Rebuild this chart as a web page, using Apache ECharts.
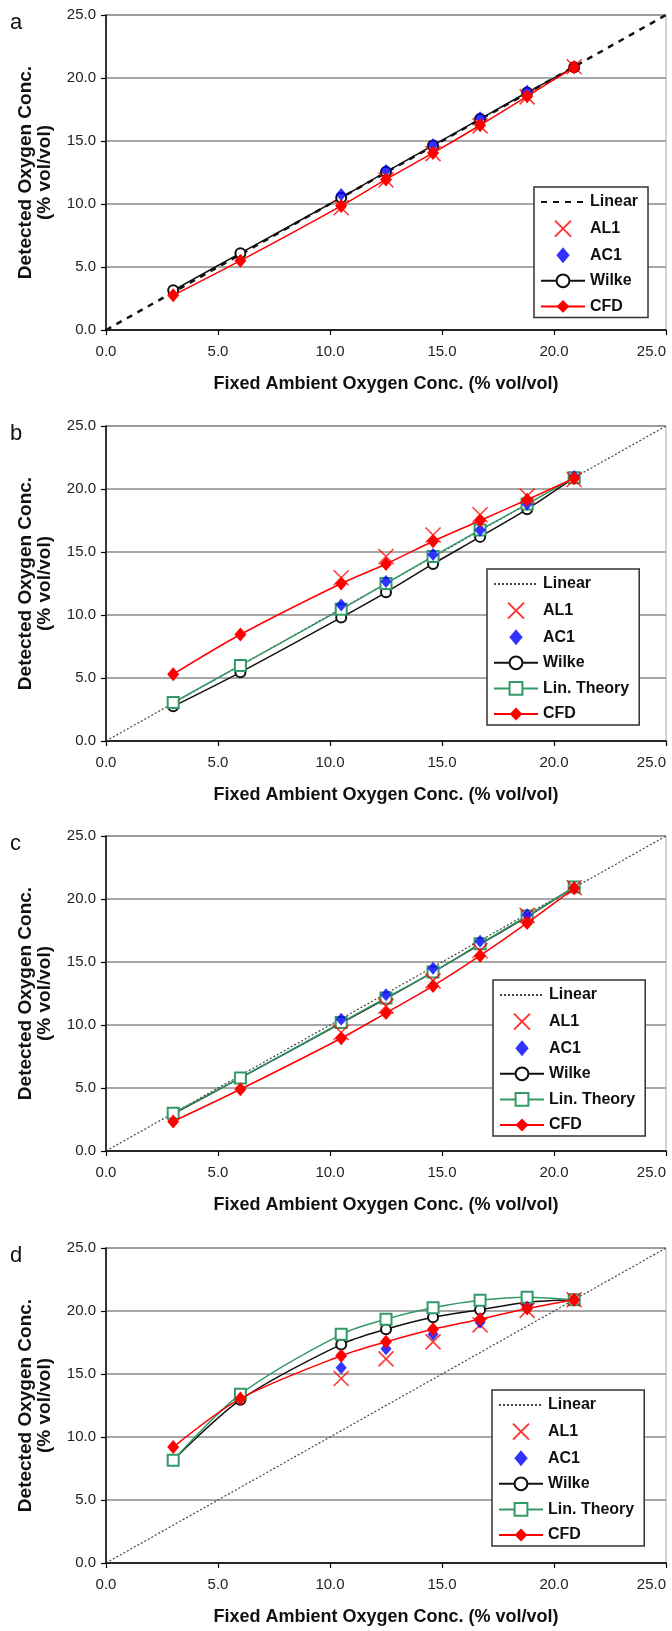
<!DOCTYPE html>
<html>
<head>
<meta charset="utf-8">
<script src="https://cdn.jsdelivr.net/npm/echarts@6/dist/echarts.min.js"></script>
<style>
  html, body { margin: 0; padding: 0; background: #fff; }
  #page { position: relative; width: 672px; height: 1631px; }
  .panel { position: absolute; left: 0; width: 672px; height: 398px; }
</style>
</head>
<body>
<div id="page">
  <div class="panel" id="panel-a" style="top:0px"></div>
  <div class="panel" id="panel-b" style="top:411px"></div>
  <div class="panel" id="panel-c" style="top:821px"></div>
  <div class="panel" id="panel-d" style="top:1233px"></div>
</div>
<script>
// x positions (fixed ambient O2, % vol/vol)
var xFull = [3.0, 6.0, 10.5, 12.5, 14.6, 16.7, 18.8, 20.9];
var xSensor = [10.5, 12.5, 14.6, 16.7, 18.8, 20.9];
var linearX = [0, 25];
var linearY = [0, 25];

// panel a
var aAL1 = [9.7, 11.9, 14.0, 16.2, 18.5, 20.9];
var aAC1 = [10.75, 12.65, 14.7, 16.85, 18.95, 20.9];
var aWilke = [3.15, 6.1, 10.5, 12.55, 14.65, 16.75, 18.85, 20.85];
var aCFD = [2.75, 5.5, 9.85, 11.95, 14.05, 16.25, 18.55, 20.85];

// panel b
var bAL1 = [12.95, 14.65, 16.35, 17.95, 19.45, 20.75];
var bAC1 = [10.8, 12.65, 14.8, 16.75, 18.8, 21.0];
var bWilke = [2.75, 5.45, 9.8, 11.8, 14.05, 16.2, 18.4, 20.9];
var bLin = [3.05, 6.0, 10.45, 12.5, 14.65, 16.75, 18.8, 20.9];
var bCFD = [5.3, 8.45, 12.5, 14.05, 15.85, 17.5, 19.15, 20.85];

// panel c
var cAL1 = [9.4, 11.5, 13.5, 15.9, 18.7, 20.9];
var cAC1 = [10.45, 12.4, 14.5, 16.65, 18.75, 20.9];
var cWilke = [2.95, 5.8, 10.15, 12.1, 14.2, 16.4, 18.6, 20.95];
var cLin = [3.0, 5.8, 10.2, 12.15, 14.2, 16.45, 18.65, 20.95];
var cCFD = [2.35, 4.9, 8.95, 10.95, 13.1, 15.5, 18.1, 20.85];

// panel d
var dAL1 = [14.65, 16.2, 17.55, 18.9, 20.05, 20.9];
var dAC1 = [15.5, 17.0, 18.15, 19.1, 20.3, 20.9];
var dWilke = [8.15, 12.95, 17.35, 18.55, 19.5, 20.1, 20.7, 20.9];
var dLin = [8.15, 13.4, 18.15, 19.35, 20.25, 20.85, 21.1, 20.9];
var dCFD = [9.2, 13.05, 16.45, 17.55, 18.55, 19.35, 20.2, 20.9];

var FONT = '"Liberation Sans", Arial, sans-serif';
var CROSS = 'path://M0,0L10,10M10,0L0,10';
var DIAMOND = 'path://M5,0L10,6L5,12L0,6Z';

function zip(xs, ys) {
    return xs.map(function (x, i) { return [x, ys[i]]; });
}

function fmt(v) { return v.toFixed(1); }

function buildOption(p) {
    var series = [];
    series.push({
        name: 'Linear', type: 'line', symbol: 'circle', symbolSize: 0, showSymbol: false, silent: true,
        data: zip(linearX, linearY),
        itemStyle: { color: '#111', opacity: 0 },
        lineStyle: p.boldLinear
            ? { color: '#111', width: 2.5, type: [6, 6] }
            : { color: '#444', width: 1.2, type: [2, 2] },
        z: 1
    });
    series.push({
        name: 'Wilke', type: 'line', symbol: 'emptyCircle', symbolSize: 10, smooth: 0.3,
        data: zip(xFull, p.wilke),
        lineStyle: { color: '#111', width: 1.5 },
        itemStyle: { color: '#111', borderWidth: 1.3 },
        z: 2
    });
    if (p.lin) {
        series.push({
            name: 'Lin. Theory', type: 'line', symbol: 'emptyRect', symbolSize: 11, smooth: 0.3,
            data: zip(xFull, p.lin),
            lineStyle: { color: '#339966', width: 1.5 },
            itemStyle: { color: '#339966', borderWidth: 1.3 },
            z: 3
        });
    }
    series.push({
        name: 'AL1', type: 'scatter', symbol: CROSS, symbolSize: 15,
        data: zip(xSensor, p.al1),
        itemStyle: { color: 'rgba(0,0,0,0)', borderColor: '#ff0000', borderWidth: 1.5 },
        z: 4
    });
    series.push({
        name: 'AC1', type: 'scatter', symbol: DIAMOND, symbolSize: [11, 13],
        data: zip(xSensor, p.ac1),
        itemStyle: { color: '#0000ff' },
        z: 5
    });
    series.push({
        name: 'CFD', type: 'line', symbol: 'diamond', symbolSize: [12, 14], smooth: 0.3,
        data: zip(xFull, p.cfd),
        lineStyle: { color: '#ff0000', width: 1.5 },
        itemStyle: { color: '#ff0000' },
        z: 6
    });

    var legendData = [
        { name: 'Linear', itemStyle: { opacity: 0 } },
        { name: 'AL1' },
        { name: 'AC1' },
        { name: 'Wilke' }
    ];
    if (p.lin) legendData.push({ name: 'Lin. Theory' });
    legendData.push({ name: 'CFD' });

    var axisCommon = {
        type: 'value', min: 0, max: 25, interval: 5,
        axisLine: { show: true, lineStyle: { color: '#000', width: 1.5 } },
        axisTick: { show: true, length: 5, lineStyle: { color: '#000', width: 1.2 } },
        axisLabel: { color: '#222', fontSize: 15, fontFamily: FONT, formatter: fmt }
    };

    return {
        animation: false,
        grid: {
            left: 106, right: 6, top: 15, height: 317, show: true,
            borderColor: '#a8a8a8', borderWidth: 1
        },
        graphic: [{
            type: 'text', left: 10, top: 12,
            style: { text: p.letter, font: '22px ' + FONT, fill: '#111' }
        }],
        legend: {
            orient: 'vertical', left: p.legendLeft, top: p.legendTop,
            data: legendData, itemWidth: 44, itemHeight: 16, itemGap: 9.6,
            padding: [7, 10, 3, 6],
            borderColor: '#333', borderWidth: 1.5, backgroundColor: '#fff',
            textStyle: { fontSize: 16, fontWeight: 'bold', color: '#111', fontFamily: FONT, lineHeight: 16 }
        },
        xAxis: Object.assign({}, axisCommon, {
            name: 'Fixed Ambient Oxygen Conc. (% vol/vol)',
            nameLocation: 'middle', nameGap: 45,
            nameTextStyle: { color: '#111', fontWeight: 'bold', fontFamily: FONT, fontSize: 18 },
            axisLabel: Object.assign({}, axisCommon.axisLabel, { margin: 14, alignMaxLabel: 'right' }),
            splitLine: { show: false }
        }),
        yAxis: Object.assign({}, axisCommon, {
            name: 'Detected Oxygen Conc.\n(% vol/vol)',
            nameLocation: 'middle', nameGap: 52, nameRotate: 90,
            nameTextStyle: { color: '#111', fontWeight: 'bold', fontFamily: FONT, fontSize: 19, lineHeight: 19 },
            axisLabel: Object.assign({}, axisCommon.axisLabel, { margin: 10 }),
            splitLine: { show: true, lineStyle: { color: '#8a8a8a', width: 1.5 } }
        }),
        series: series
    };
}

var panels = [
    { id: 'panel-a', letter: 'a', boldLinear: true, al1: aAL1, ac1: aAC1, wilke: aWilke, lin: null, cfd: aCFD, legendLeft: 534, legendTop: 187 },
    { id: 'panel-b', letter: 'b', al1: bAL1, ac1: bAC1, wilke: bWilke, lin: bLin, cfd: bCFD, legendLeft: 487, legendTop: 158 },
    { id: 'panel-c', letter: 'c', al1: cAL1, ac1: cAC1, wilke: cWilke, lin: cLin, cfd: cCFD, legendLeft: 493, legendTop: 159 },
    { id: 'panel-d', letter: 'd', al1: dAL1, ac1: dAC1, wilke: dWilke, lin: dLin, cfd: dCFD, legendLeft: 492, legendTop: 157 }
];

panels.forEach(function (p) {
    var chart = echarts.init(document.getElementById(p.id), null, { renderer: 'canvas' });
    chart.setOption(buildOption(p));
});
</script>
</body>
</html>
